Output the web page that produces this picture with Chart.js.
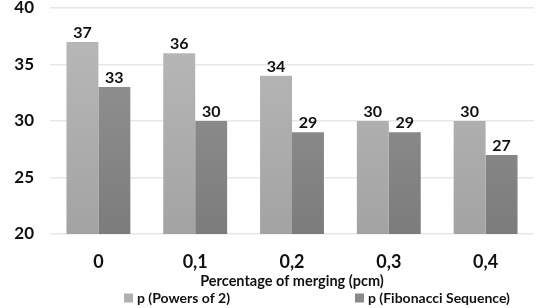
<!DOCTYPE html>
<html>
<head>
<meta charset="utf-8">
<script src="https://cdn.jsdelivr.net/npm/chart.js@4"></script>
<style>
  html, body { margin: 0; padding: 0; background: #fff; }
  #wrap { width: 536px; height: 308px; }
</style>
</head>
<body>
<div id="wrap"><canvas id="chart"></canvas></div>
<script>
// chart data
var categories = ['0', '0,1', '0,2', '0,3', '0,4'];
var powersOf2 = [37, 36, 34, 30, 30];
var fibonacci = [33, 30, 29, 29, 27];
var seriesNames = ['p (Powers of 2)', 'p (Fibonacci Sequence)'];
var yTicks = [20, 25, 30, 35, 40];

var FONT = 'Lato, "Open Sans", sans-serif';
var legendColors = ['#b0b0b0', '#8a8a8a'];

// vertical gradient for bars
function barGradient(top, bottom) {
    return function (ctx) {
        var area = ctx.chart.chartArea;
        if (!area) {
            return top;
        }
        var g = ctx.chart.ctx.createLinearGradient(0, area.top, 0, area.bottom);
        g.addColorStop(0, top);
        g.addColorStop(1, bottom);
        return g;
    };
}

// draw the value above each bar
var valueLabels = {
    id: 'valueLabels',
    afterDatasetsDraw: function (chart) {
        var c = chart.ctx;
        c.save();
        c.font = 'bold 16px ' + FONT;
        c.fillStyle = '#111';
        c.textAlign = 'center';
        c.textBaseline = 'bottom';
        chart.data.datasets.forEach(function (ds, i) {
            chart.getDatasetMeta(i).data.forEach(function (bar, j) {
                c.fillText(ds.data[j], bar.x, bar.y - 1);
            });
        });
        c.restore();
    }
};

// legend with a wide gap between the two items (like the original)
var wideLegend = {
    id: 'wideLegend',
    afterDraw: function (chart) {
        var c = chart.ctx;
        var area = chart.chartArea;
        var box = 9, gap = 4;
        var starts = [area.left + 74, area.left + 305];
        var y = chart.height - 10;
        c.save();
        c.font = 'bold 14px ' + FONT;
        c.textBaseline = 'middle';
        chart.data.datasets.forEach(function (ds, i) {
            c.fillStyle = legendColors[i];
            c.fillRect(starts[i], y - box / 2, box, box);
            c.fillStyle = '#111';
            c.fillText(ds.label, starts[i] + box + gap, y);
        });
        c.restore();
    }
};

var data = {
    labels: categories,
    datasets: [{
        label: seriesNames[0],
        data: powersOf2,
        backgroundColor: barGradient('#bababa', '#a3a3a3')
    }, {
        label: seriesNames[1],
        data: fibonacci,
        backgroundColor: barGradient('#979797', '#7c7c7c')
    }]
};

var options = {
    responsive: true,
    maintainAspectRatio: false,
    animation: false,
    layout: { padding: { top: 0, right: 2, left: 0, bottom: 20 } },
    datasets: {
        bar: { categoryPercentage: 0.66, barPercentage: 1.0 }
    },
    plugins: {
        legend: { display: false },
        tooltip: { enabled: false }
    },
    scales: {
        x: {
            grid: { display: false, drawTicks: false },
            border: { display: false },
            ticks: {
                color: '#111',
                padding: 17,
                font: { family: FONT, size: 18, weight: 'bold' }
            },
            title: {
                display: true,
                text: 'Percentage of merging (pcm)',
                color: '#111',
                padding: { top: 0, bottom: -2 },
                font: { family: FONT, size: 14.5, weight: 'bold' }
            },
            afterFit: function (scale) {
                scale.height = 54;
            }
        },
        y: {
            min: yTicks[0],
            max: yTicks[yTicks.length - 1],
            border: { display: false },
            grid: { color: '#e4e7eb', lineWidth: 1.5, drawTicks: false },
            ticks: {
                stepSize: 5,
                color: '#111',
                padding: 16,
                font: { family: FONT, size: 17, weight: 'bold' }
            },
            afterFit: function (scale) {
                scale.width = 50;
                scale.paddingTop = 8;
                scale.paddingBottom = 0;
            }
        }
    }
};

var canvas = document.getElementById('chart').getContext('2d');
new Chart(canvas, {
    type: 'bar',
    data: data,
    options: options,
    plugins: [valueLabels, wideLegend]
});
</script>
</body>
</html>
